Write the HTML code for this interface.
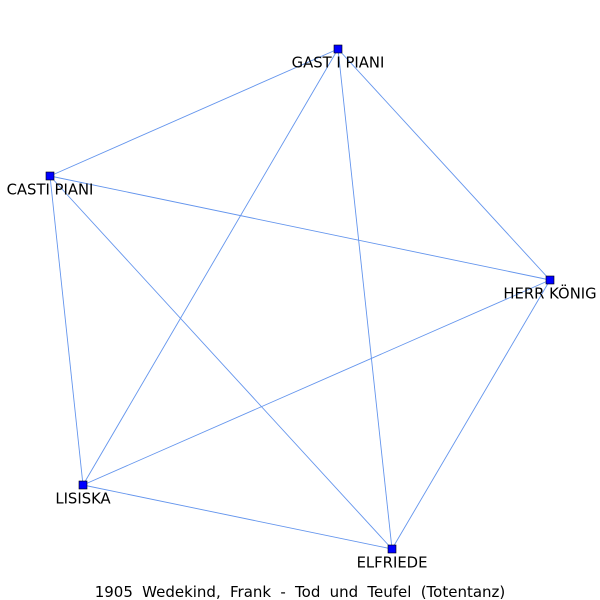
<!DOCTYPE html>
<html><head><meta charset="utf-8"><style>
html,body{margin:0;padding:0;background:#fff;}
svg{display:block;font-family:"DejaVu Sans","Liberation Sans",sans-serif;}
</style></head><body>
<svg id="chart" width="600" height="600" viewBox="0 0 600 600">
<rect width="600" height="600" fill="#fff"/>
<g id="edges"></g>
<g id="nodes"></g>
<text x="300" y="597" text-anchor="middle" font-size="15" fill="#000" word-spacing="4.5">1905 Wedekind, Frank - Tod und Teufel (Totentanz)</text>
</svg>
<script>
const nodeNames = ["GAST I PIANI","CASTI PIANI","HERR KÖNIG","LISISKA","ELFRIEDE"];
const nodeX = [338,50,550,83,392];
const nodeY = [49,176,280,485,549];
const edgeFrom = [0,0,0,0,1,1,1,2,2,3];
const edgeTo =   [1,2,3,4,2,3,4,3,4,4];
const ns="http://www.w3.org/2000/svg";
const eg=document.getElementById('edges'), ng=document.getElementById('nodes');
for(let i=0;i<edgeFrom.length;i++){
  const l=document.createElementNS(ns,'line');
  l.setAttribute('x1',nodeX[edgeFrom[i]]);l.setAttribute('y1',nodeY[edgeFrom[i]]);
  l.setAttribute('x2',nodeX[edgeTo[i]]);l.setAttribute('y2',nodeY[edgeTo[i]]);
  l.setAttribute('stroke','#6495ed');l.setAttribute('stroke-width','0.9');
  
  
  eg.appendChild(l);
}
for(let i=0;i<nodeNames.length;i++){
  const r=document.createElementNS(ns,'rect');
  r.setAttribute('x',nodeX[i]-4);r.setAttribute('y',nodeY[i]-4);
  r.setAttribute('width',8);r.setAttribute('height',8);
  r.setAttribute('fill','#0000ff');r.setAttribute('stroke','#000');r.setAttribute('stroke-width','0.6');
  
  
  ng.appendChild(r);
  const t=document.createElementNS(ns,'text');
  t.setAttribute('x',nodeX[i]);t.setAttribute('y',nodeY[i]+18.5);
  t.setAttribute('text-anchor','middle');t.setAttribute('font-size','14.8');
  t.textContent=nodeNames[i];
  
  
  ng.appendChild(t);
}
</script>
</body></html>
